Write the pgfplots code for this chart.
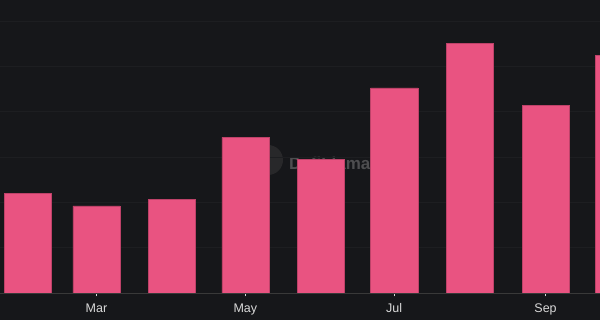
\documentclass[border=0pt]{standalone}
\usepackage{pgfplots}
\pgfplotsset{compat=1.18}
\usepackage{fontspec}
\setmainfont{Liberation Sans}
\definecolor{bg}{RGB}{22,23,26}
\definecolor{gridc}{RGB}{29,30,33}
\definecolor{barc}{RGB}{233,83,129}
\definecolor{barb}{RGB}{190,66,105}
\definecolor{wm}{RGB}{78,78,80}
\definecolor{wmc}{RGB}{40,40,42}
\begin{document}
\begin{tikzpicture}[x=1pt,y=1pt]
\fill[bg] (0,-27) rectangle (600,293);
% watermark behind the bars
\fill[wmc] (268,133) circle (15);
\node[anchor=west,text=wm,font=\fontsize{17}{17}\selectfont\bfseries,inner sep=0] at (289,130) {DefiLlama};
\begin{axis}[
  scale only axis, width=600pt, height=293pt,
  xmin=-39.5, xmax=206.3,
  ymin=0, ymax=6.46,
  axis x line*=bottom, axis y line*=left,
  y axis line style={draw=none},
  x axis line style={draw=gray!45!black, line width=0.6pt, -},
  ytick={1,2,3,4,5,6}, yticklabels={}, ytick style={draw=none},
  ymajorgrids, grid style={gridc, line width=0.6pt},
  xtick={0,61,122,184}, xticklabels={Mar,May,Jul,Sep},
  xtick style={white!85!black, line width=0.7pt},
  major tick length=3.5pt, tick align=outside,
  xticklabel style={text=white!85!black, font=\fontsize{12.5}{12.5}\selectfont, yshift=-3.5pt},
  ybar, bar width=19.3,
]
\addplot[fill=barc, draw=barb, line width=0.4pt] coordinates {
  (-28,2.20) (0,1.92) (31,2.07) (61,3.43) (92,2.95)
  (122,4.52) (153,5.51) (184,4.14) (214,5.24)
};
\end{axis}
\pgfresetboundingbox
\path[use as bounding box] (0,-27) rectangle (600,293);
\end{tikzpicture}
\end{document}
